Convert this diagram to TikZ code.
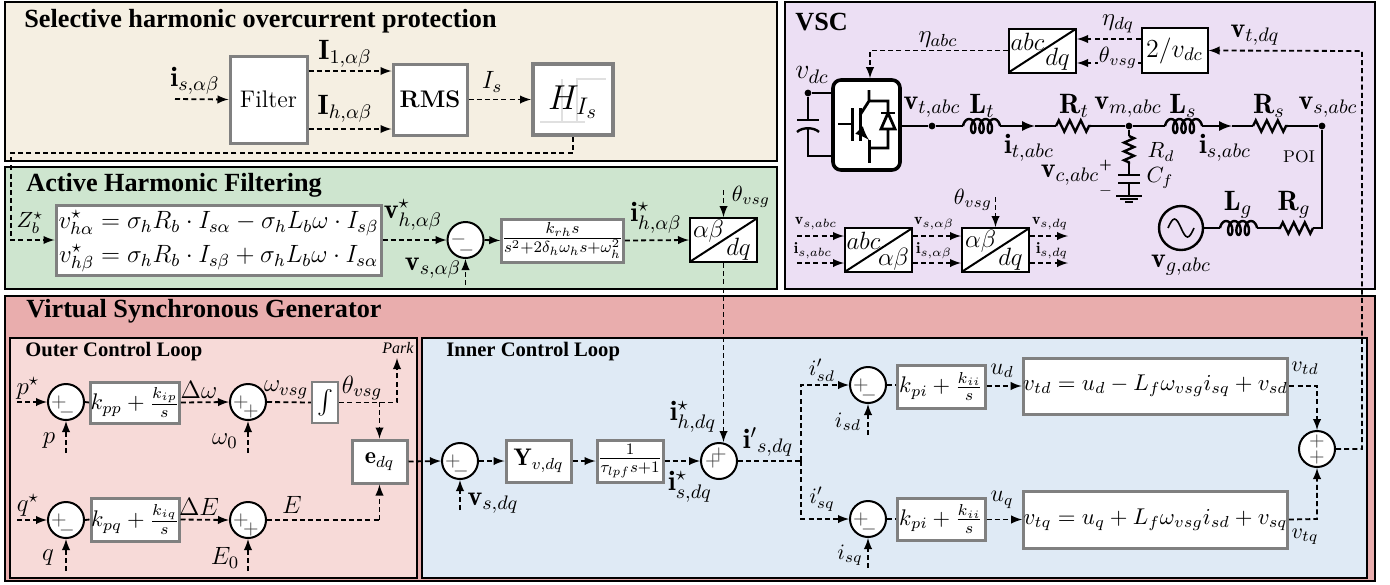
\documentclass[tikz,border=0pt]{standalone}
\usepackage{fix-cm}
\usepackage{amsmath, amssymb}
\usepackage{fontspec}
\usepackage{xcolor}
\usepackage{tikz}
\usetikzlibrary{calc, decorations.pathmorphing}
\newfontfamily\titlefont{Liberation Serif}

\definecolor{protbg}{HTML}{F5EFE2}
\definecolor{ahfbg}{HTML}{CEE5CF}
\definecolor{vscbg}{HTML}{ECDFF4}
\definecolor{vsgbg}{HTML}{E9ADAD}
\definecolor{outerbg}{HTML}{F7DAD8}
\definecolor{innerbg}{HTML}{DFEAF5}
\definecolor{boxgray}{HTML}{808080}

\tikzset{
    panelbox/.style={draw=black, line width=1pt},
    boxsize/.style 2 args={minimum width=#1*0.5pt, minimum height=#2*0.5pt},
    graybox/.style={draw=boxgray, fill=white, line width=1.5pt, font=\large},
    gainbox/.style={graybox, font=\fontsize{11.3}{13}\selectfont},
    parkbox/.style 2 args={draw=black, fill=white, line width=1pt, boxsize={67}{44},
        path picture={
            \draw ($(path picture bounding box.center)+(-34,22)$) -- ($(path picture bounding box.center)+(34,-22)$);
            \node (parktop) at ($(path picture bounding box.center)+(-15,-9)$) {$#1$};
            \node (parkbot) at ($(path picture bounding box.center)+(15,9)$) {$#2$};
        }},
    sumsigns/.style n args={4}{circle, draw=black, fill=white, line width=1pt, boxsize={36}{36},
        path picture={
            \node[font=\normalsize, text=black!75] (signa) at ($(path picture bounding box.center)+(#1)$) {$#2$};
            \node[font=\normalsize, text=black!75] (signb) at ($(path picture bounding box.center)+(#3)$) {$#4$};
        }},
    sigplain/.style={line width=0.9pt, dash pattern=on 2.5pt off 1.6pt},
    sigline/.style={sigplain, ->},
    powerline/.style={line width=1.2pt},
    respart/.style={powerline, decorate, decoration={zigzag, segment length=5.5pt, amplitude=2.8pt}},
    dotnode/.style={circle, fill=black, minimum size=3.4pt, inner sep=0pt},
    coilpic/.pic={
        \draw[powerline] plot[domain=0.25:3.75, samples=90, smooth]
            ({(\x-0.25)*8.3+4*(1-sin(360*\x))}, {7*cos(360*\x)});
    },
    boldlabel/.style={font=\fontsize{14}{16}\selectfont},
    softlabel/.style={font=\fontsize{11}{13}\selectfont},
    tinylabel/.style={font=\footnotesize},
    paneltitle/.style={anchor=west, font=\titlefont\bfseries\fontsize{13.1}{15}\selectfont},
    looptitle/.style={anchor=west, font=\titlefont\bfseries\fontsize{10.3}{12}\selectfont},
}

\begin{document}
\begin{tikzpicture}[>=latex, x=0.5pt, y=-0.5pt, every node/.style={font=\fontsize{12.5}{15}\selectfont, inner sep=0pt}]
    \useasboundingbox (0,0) rectangle (1390,584);

    % Panels
    \draw[panelbox, fill=protbg] (5,2) rectangle (777,161);
    \draw[panelbox, fill=ahfbg] (5,167) rectangle (777,289);
    \draw[panelbox, fill=vscbg] (785,2) rectangle (1375,289);
    \draw[panelbox, fill=vsgbg] (5,296) rectangle (1375,581);
    \draw[panelbox, fill=outerbg] (10,338) rectangle (417,578);
    \draw[panelbox, fill=innerbg] (422,338) rectangle (1367,578);

    \node[paneltitle] (protTitle) at (24,21) {Selective harmonic overcurrent protection};
    \node[paneltitle] (ahfTitle) at (26,185) {Active Harmonic Filtering};
    \node[paneltitle] (vscTitle) at (795,22) {VSC};
    \node[paneltitle] (vsgTitle) at (26,311) {Virtual Synchronous Generator};
    \node[looptitle] (outerTitle) at (25,352) {Outer Control Loop};
    \node[looptitle] (innerTitle) at (446,352) {Inner Control Loop};

    % Protection
    \coordinate (isIn) at (175,99);
    \node[graybox, boxsize={77}{87}] (filter) at (268.5,99.5) {Filter};
    \node[graybox, boxsize={74}{71}] (rms) at (430,99.5) {\textbf{RMS}};
    \node[draw=boxgray, fill=white, line width=2pt, boxsize={80}{71}] (hist) at (573,99.5) {};
    \draw[black!12, line width=0.8pt] (540,122) -- (585,122) (562,122) -- (562,79) (577,122) -- (577,79) -- (606,79);
    \node[font=\LARGE] (histText) at (573,102) {$H_{I_s}$};
    \node[boldlabel] (isLabel) at (195,81) {$\mathbf{i}_{s,\alpha\beta}$};
    \node[boldlabel] (i1Label) at (345,54) {$\mathbf{I}_{1,\alpha\beta}$};
    \node[boldlabel] (ihLabel) at (345,109) {$\mathbf{I}_{h,\alpha\beta}$};
    \node (rmsLabel) at (492,82) {$I_s$};
    \draw[sigline] (isIn) -- (filter.west);
    \draw[sigline] ($(filter.east)+(0,-28.5)$) -- ($(rms.west)+(0,-28.5)$);
    \draw[sigline] ($(filter.east)+(0,29.5)$) -- ($(rms.west)+(0,29.5)$);
    \draw[sigline] (rms.east) -- (hist.west);

    % Active harmonic filtering
    \coordinate (prCorner) at (11,153);
    \node[graybox, font=\fontsize{12.5}{15}\selectfont, boxsize={325}{70}] (ahfEq) at (218.5,240) {$\begin{aligned}
        v^\star_{h\alpha} &= \sigma_h R_b\cdot I_{s\alpha} - \sigma_h L_b\omega\cdot I_{s\beta}\\[-1pt]
        v^\star_{h\beta} &= \sigma_h R_b\cdot I_{s\beta} + \sigma_h L_b\omega\cdot I_{s\alpha}
    \end{aligned}$};
    \node[sumsigns={-7,-1}{-}{1,10}{-}] (ahfSum) at (465.5,240) {};
    \node[graybox, boxsize={121}{43}] (ahfFrac) at (562.5,240.5) {$\frac{k_{rh}s}{s^2+2\delta_h\omega_h s+\omega_h^2}$};
    \node[parkbox={\alpha\beta}{dq}] (ahfPark) at (723.5,240) {};
    \coordinate (vsIn) at (465.5,285);
    \coordinate (thetaIn) at (723.5,190);
    \node[softlabel] (zLabel) at (30,223) {$Z^\star_b$};
    \node[boldlabel] (vhLabel) at (413,215) {$\mathbf{v}^\star_{h,\alpha\beta}$};
    \node[boldlabel] (vsLabel) at (433,268) {$\mathbf{v}_{s,\alpha\beta}$};
    \node[boldlabel] (ihRefLabel) at (656,218) {$\mathbf{i}^\star_{h,\alpha\beta}$};
    \node[softlabel] (thetaLabel) at (751,197) {$\theta_{vsg}$};
    \draw[sigline] (hist.south) |- (prCorner) |- (ahfEq.west);
    \draw[sigline] (ahfEq.east) -- (ahfSum.west);
    \draw[sigline] (ahfSum.east) -- (ahfFrac.west);
    \draw[sigline] (ahfFrac.east) -- (ahfPark.west);
    \draw[sigline] (vsIn) -- (ahfSum.south);
    \draw[sigline] (thetaIn) -- (ahfPark.north);

    % VSC control side
    \node[parkbox={abc}{dq}] (vscPark) at (1042.5,50.5) {};
    \node[draw=black, fill=white, line width=1pt, font=\fontsize{13}{15}\selectfont, boxsize={66}{45}] (gainVdc) at (1174.5,50.5) {$2/v_{dc}$};
    \node[draw=black, fill=white, line width=1.8pt, rounded corners=4pt, boxsize={67}{90}] (conv) at (866.5,125) {};
    \coordinate (etaCorner) at (870,51);
    \draw[sigline] ($(gainVdc.west)+(0,-11.5)$) -- ($(vscPark.east)+(0,-11.5)$);
    \draw[sigline] ($(gainVdc.west)+(0,12.5)$) -- ($(vscPark.east)+(0,12.5)$);
    \draw[sigline] (vscPark.west) -| (conv.north -| etaCorner);
    \node (etaDq) at (1118,24) {$\eta_{dq}$};
    \node[softlabel, fill=vscbg, inner sep=0.5pt] (thetaDq) at (1118,58) {$\theta_{vsg}$};
    \node (etaAbc) at (938,40) {$\eta_{abc}$};
    \node[boldlabel] (vtDq) at (1255,35) {$\mathbf{v}_{t,dq}$};

    % Switch symbol
    \draw[line width=1.5pt] (852,108) -- (852,141) (860,108) -- (860,141);
    \draw[line width=1.4pt] (838,124) -- (852,124);
    \draw[line width=1.4pt] (860,115) -- (869,101) -- (869,90) (869,101) -- (888,101) -- (888,148) -- (869,148);
    \draw[line width=1.4pt, ->] (860,131) -- (869,140);
    \draw[line width=1.5pt] (869,140) -- (869,163);
    \draw[line width=1.4pt, fill=white] (888,113) -- (881,129) -- (895,129) -- cycle;
    \draw[line width=1.4pt] (881,113) -- (895,113);

    % DC side
    \node[dotnode] (dcDot) at (808,93) {};
    \node[boldlabel] (vdcLabel) at (812,75) {$v_{dc}$};
    \coordinate (dcPlateA) at (808,120);
    \coordinate (dcPlateB) at (808,127);
    \coordinate (dcLow) at (808,156);
    \draw[powerline] (dcDot) -- (dcDot -| conv.west);
    \draw[powerline] (dcDot) -- (dcPlateA);
    \draw[powerline] (dcPlateB) -- (dcLow) -- (dcLow -| conv.west);
    \draw[powerline] (797,120) -- (819,120);
    \draw[powerline] (797,132) .. controls (802,127) and (814,127) .. (819,132);

    % AC side
    \node[dotnode] (tDot) at (932,126) {};
    \node[dotnode] (mDot) at (1129,126) {};
    \node[dotnode] (sDot) at (1322,126) {};
    \node[circle, draw=black, fill=none, line width=1.2pt, boxsize={44}{44}] (vGrid) at (1181,228) {};
    \coordinate (ltA) at (963,126);
    \coordinate (ltB) at (1000,126);
    \coordinate (ltTip) at (1035,126);
    \coordinate (rtA) at (1056,126);
    \coordinate (rtB) at (1091,126);
    \coordinate (lsA) at (1165,126);
    \coordinate (lsB) at (1202,126);
    \coordinate (lsTip) at (1232,126);
    \coordinate (rsA) at (1253,126);
    \coordinate (rsB) at (1288,126);
    \coordinate (gridCorner) at (1322,228);
    \coordinate (rgB) at (1313,228);
    \coordinate (rgA) at (1278,228);
    \coordinate (lgB) at (1257,228);
    \coordinate (lgA) at (1220,228);
    \draw[powerline] (conv.east |- tDot) -- (tDot) -- (ltA);
    \pic at (ltA) {coilpic};
    \draw[powerline, ->] (ltB) -- (ltTip);
    \draw[powerline] (ltTip) -- (rtA);
    \draw[respart] (rtA) -- (rtB);
    \draw[powerline] (rtB) -- (mDot) -- (lsA);
    \pic at (lsA) {coilpic};
    \draw[powerline, ->] (lsB) -- (lsTip);
    \draw[powerline] (lsTip) -- (rsA);
    \draw[respart] (rsA) -- (rsB);
    \draw[powerline] (rsB) -- (sDot) -- (gridCorner) -- (rgB);
    \draw[respart] (rgB) -- (rgA);
    \draw[powerline] (rgA) -- (lgB);
    \pic at (lgA) {coilpic};
    \draw[powerline] (lgA) -- (vGrid.east);
    \draw[line width=0.8pt] ($(vGrid.center)+(-13,0)$) sin ++(6.5,-9) cos ++(6.5,9) sin ++(6.5,9) cos ++(6.5,-9);
    % Filter branch
    \coordinate (rdA) at (1129,136);
    \coordinate (rdB) at (1129,164);
    \coordinate (cfA) at (1129,175);
    \coordinate (cfB) at (1129,183);
    \coordinate (gndTop) at (1129,196);
    \draw[powerline] (mDot) -- (rdA);
    \draw[powerline, decorate, decoration={zigzag, segment length=4.4pt, amplitude=2.5pt}] (rdA) -- (rdB);
    \draw[powerline] (rdB) -- (cfA) (cfB) -- (gndTop);
    \draw[line width=1.3pt] (1118,175) -- (1140,175) (1118,183) -- (1140,183);
    \draw[line width=1.1pt] (1116,196) -- (1142,196);
    \draw[line width=0.9pt] (1120,199) -- (1138,199) (1125,202) -- (1133,202);

    \node[boldlabel] (vtAbc) at (932,107) {$\mathbf{v}_{t,abc}$};
    \node[boldlabel] (ltLabel) at (982,106) {$\mathbf{L}_t$};
    \node[boldlabel] (rtLabel) at (1074,106) {$\mathbf{R}_t$};
    \node[boldlabel] (vmAbc) at (1128,107) {$\mathbf{v}_{m,abc}$};
    \node[boldlabel] (lsLabel) at (1183,106) {$\mathbf{L}_s$};
    \node[boldlabel] (rsLabel) at (1269,106) {$\mathbf{R}_s$};
    \node[boldlabel] (vsAbc) at (1328,107) {$\mathbf{v}_{s,abc}$};
    \node[boldlabel] (itAbc) at (1029,148) {$\mathbf{i}_{t,abc}$};
    \node[boldlabel] (isAbc) at (1225,148) {$\mathbf{i}_{s,abc}$};
    \node[font=\fontsize{8.5}{10}\selectfont] (poiLabel) at (1299,157) {POI};
    \node[softlabel] (rdLabel) at (1161,152) {$R_d$};
    \node[softlabel] (cfLabel) at (1160,178) {$C_f$};
    \node[boldlabel] (vcAbc) at (1070,175) {$\mathbf{v}_{c,abc}$};
    \node[font=\bfseries\fontsize{6}{7}\selectfont] (plusLabel) at (1105.5,165) {+};
    \node[font=\bfseries\fontsize{8}{9}\selectfont] (minusLabel) at (1105.5,193) {--};
    \node[boldlabel] (lgLabel) at (1238,205) {$\mathbf{L}_g$};
    \node[boldlabel] (rgLabel) at (1294,205) {$\mathbf{R}_g$};
    \node[boldlabel] (vgAbc) at (1181,265) {$\mathbf{v}_{g,abc}$};

    % Measurement transforms
    \node[parkbox={abc}{\alpha\beta}] (clarke) at (878.5,250) {};
    \node[parkbox={\alpha\beta}{dq}] (park) at (995.5,250) {};
    \coordinate (vAbcIn) at (797,236);
    \coordinate (iAbcIn) at (797,263);
    \coordinate (vDqOut) at (1068,236);
    \coordinate (iDqOut) at (1068,263);
    \coordinate (thetaPark) at (995.5,197);
    \draw[sigline] (vAbcIn) -- (vAbcIn -| clarke.west);
    \draw[sigline] (iAbcIn) -- (iAbcIn -| clarke.west);
    \draw[sigline] (vAbcIn -| clarke.east) -- (vAbcIn -| park.west);
    \draw[sigline] (iAbcIn -| clarke.east) -- (iAbcIn -| park.west);
    \draw[sigline] (vDqOut -| park.east) -- (vDqOut);
    \draw[sigline] (iDqOut -| park.east) -- (iDqOut);
    \draw[sigline] (thetaPark) -- (park.north);
    \node[tinylabel] (tagA) at (816,224) {$\mathbf{v}_{s,abc}$};
    \node[tinylabel] (tagB) at (813,251) {$\mathbf{i}_{s,abc}$};
    \node[tinylabel] (tagC) at (934,224) {$\mathbf{v}_{s,\alpha\beta}$};
    \node[tinylabel] (tagD) at (934,251) {$\mathbf{i}_{s,\alpha\beta}$};
    \node[tinylabel] (tagE) at (1050,224) {$\mathbf{v}_{s,dq}$};
    \node[tinylabel] (tagF) at (1052,251) {$\mathbf{i}_{s,dq}$};
    \node[softlabel] (thetaTag) at (973,200) {$\theta_{vsg}$};

    % Outer loop
    \node[sumsigns={-7,0}{+}{1,10}{-}] (sumP) at (66,402) {};
    \node[gainbox, boxsize={88}{41}] (kpp) at (135,402.5) {$k_{pp}+\frac{k_{ip}}{s}$};
    \node[sumsigns={-7,0}{+}{3,9}{+}] (sumW) at (248,402) {};
    \node[graybox, line width=1.1pt, boxsize={26}{41}] (intg) at (325,402.5) {$\int$};
    \node[graybox, boxsize={55}{43}] (edq) at (379.5,461.5) {$\mathbf{e}_{dq}$};
    \node[sumsigns={-7,0}{+}{1,10}{-}] (sumQ) at (66,520) {};
    \node[gainbox, boxsize={88}{43}] (kpq) at (135,519.5) {$k_{pq}+\frac{k_{iq}}{s}$};
    \node[sumsigns={-7,0}{+}{3,9}{+}] (sumE) at (248,520) {};
    \coordinate (pRef) at (17,402);
    \coordinate (qRef) at (17,520);
    \coordinate (parkTip) at (397,358);
    \coordinate (thetaTap) at (379.5,402);
    \coordinate (eCorner) at (379.5,520);
    \foreach \nm/\target in {pFb/sumP, wFb/sumW, qFb/sumQ, eFb/sumE} {
        \coordinate (\nm) at ($(\target.south)+(0,32)$);
        \draw[sigline] (\nm) -- (\target.south);
    }
    \draw[sigline] (pRef) -- (sumP.west);
    \draw[sigline] (qRef) -- (sumQ.west);
    \draw[sigplain] (sumP.east) -- (kpp.west);
    \draw[sigplain] (sumQ.east) -- (kpq.west);
    \draw[sigline] (kpp.east) -- (sumW.west);
    \draw[sigline] (kpq.east) -- (sumE.west);
    \draw[sigplain] (sumW.east) -- (intg.west);
    \draw[sigline] (intg.east) -| (parkTip);
    \draw[sigline] (thetaTap) -- (edq.north);
    \draw[sigplain] (sumE.east) -- (eCorner);
    \draw[sigline] (eCorner) -- (edq.south);
    \node (pLabel) at (28,388) {$p^\star$};
    \node (pFbLabel) at (49,441) {$p$};
    \node (dwLabel) at (199,390) {$\Delta\omega$};
    \node (w0Label) at (225,441) {$\omega_0$};
    \node (wvLabel) at (286,390) {$\omega_{vsg}$};
    \node (thvLabel) at (362,388) {$\theta_{vsg}$};
    \node[font=\titlefont\itshape\fontsize{8}{10}\selectfont] (parkLabel) at (398,348) {Park};
    \node (qLabel) at (28,505) {$q^\star$};
    \node (qFbLabel) at (48,558) {$q$};
    \node (deLabel) at (199,507) {$\Delta E$};
    \node (eLabel) at (292,505) {$E$};
    \node (e0Label) at (225,558) {$E_0$};

    % Inner loop
    \node[sumsigns={-7,0}{+}{1,10}{-}] (sumV) at (460,461) {};
    \node[graybox, boxsize={65}{42}] (yBox) at (538.5,461) {$\mathbf{Y}_{v,dq}$};
    \node[graybox, boxsize={66}{42}] (lpf) at (630,461) {$\frac{1}{\tau_{lpf}s+1}$};
    \node[sumsigns={-6,0}{+}{0,-7}{+}] (sumI) at (719,461) {};
    \coordinate (vsDqIn) at (460,510);
    \coordinate (splitPt) at (801,461);
    \coordinate (splitUp) at (801,385);
    \coordinate (splitLo) at (801,519);
    \node[sumsigns={-7,0}{+}{1,10}{-}] (sumD) at (868,385) {};
    \node[sumsigns={-7,0}{+}{1,10}{-}] (sumDq) at (868,519) {};
    \node[gainbox, boxsize={88}{43}] (kpiD) at (941,386.5) {$k_{pi}+\frac{k_{ii}}{s}$};
    \node[gainbox, boxsize={88}{42}] (kpiQ) at (941,519) {$k_{pi}+\frac{k_{ii}}{s}$};
    \node[graybox, font=\fontsize{11.4}{14}\selectfont, boxsize={259}{56}] (eqD) at (1155.5,386) {$v_{td}=u_d-L_f\omega_{vsg}i_{sq}+v_{sd}$};
    \node[graybox, font=\fontsize{11.4}{14}\selectfont, boxsize={259}{57}] (eqQ) at (1155.5,519.5) {$v_{tq}=u_q+L_f\omega_{vsg}i_{sd}+v_{sq}$};
    \node[sumsigns={0,-8}{+}{0,8}{+}] (sumOut) at (1317,449) {};
    \coordinate (dCorner) at (1317,386);
    \coordinate (qCorner) at (1317,519);
    \coordinate (fbCorner) at (1362,51);
    \coordinate (isdIn) at (868,435);
    \coordinate (isqIn) at (868,568);
    \draw[sigline] (edq.east) -- (sumV.west);
    \draw[sigline] (sumV.east) -- (yBox.west);
    \draw[sigline] (yBox.east) -- (lpf.west);
    \draw[sigline] (lpf.east) -- (sumI.west);
    \draw[sigline] (vsDqIn) -- (sumV.south);
    \draw[sigline] (ahfPark.south) -- (sumI.north -| ahfPark.south);
    \draw[sigplain] (sumI.east) -- (splitPt);
    \draw[sigline] (splitPt) -- (splitUp) -- (sumD.west);
    \draw[sigline] (splitPt) -- (splitLo) -- (sumDq.west);
    \draw[sigline] (isdIn) -- (sumD.south);
    \draw[sigline] (isqIn) -- (sumDq.south);
    \draw[sigplain] (sumD.east) -- (kpiD.west |- sumD.east);
    \draw[sigplain] (sumDq.east) -- (kpiQ.west |- sumDq.east);
    \draw[sigline] (kpiD.east |- eqD.west) -- (eqD.west);
    \draw[sigline] (kpiQ.east |- eqQ.west) -- (eqQ.west);
    \draw[sigline] (eqD.east) -- (dCorner) -- (sumOut.north);
    \draw[sigline] (eqQ.east) -- (qCorner) -- (sumOut.south);
    \draw[sigline] (sumOut.east) -| (fbCorner) -- (gainVdc.east);
    \node[boldlabel] (vsDqLabel) at (493,503) {$\mathbf{v}_{s,dq}$};
    \node[boldlabel] (ihDq) at (693,417) {$\mathbf{i}^\star_{h,dq}$};
    \node[boldlabel] (isDq) at (690,487) {$\mathbf{i}^\star_{s,dq}$};
    \node[boldlabel] (ipDq) at (768,442) {$\mathbf{i}'{}_{s,dq}$};
    \node[softlabel] (ipSd) at (822,370) {$i'_{sd}$};
    \node[softlabel] (ipSq) at (822,499) {$i'_{sq}$};
    \node[softlabel] (isdLabel) at (848,422) {$i_{sd}$};
    \node[softlabel] (isqLabel) at (850,555) {$i_{sq}$};
    \node[font=\fontsize{12}{14}\selectfont] (udLabel) at (1002,371) {$u_d$};
    \node[font=\fontsize{12}{14}\selectfont] (uqLabel) at (1002,500) {$u_q$};
    \node[softlabel] (vtdLabel) at (1305,368) {$v_{td}$};
    \node[softlabel] (vtqLabel) at (1305,537) {$v_{tq}$};
\end{tikzpicture}
\end{document}
